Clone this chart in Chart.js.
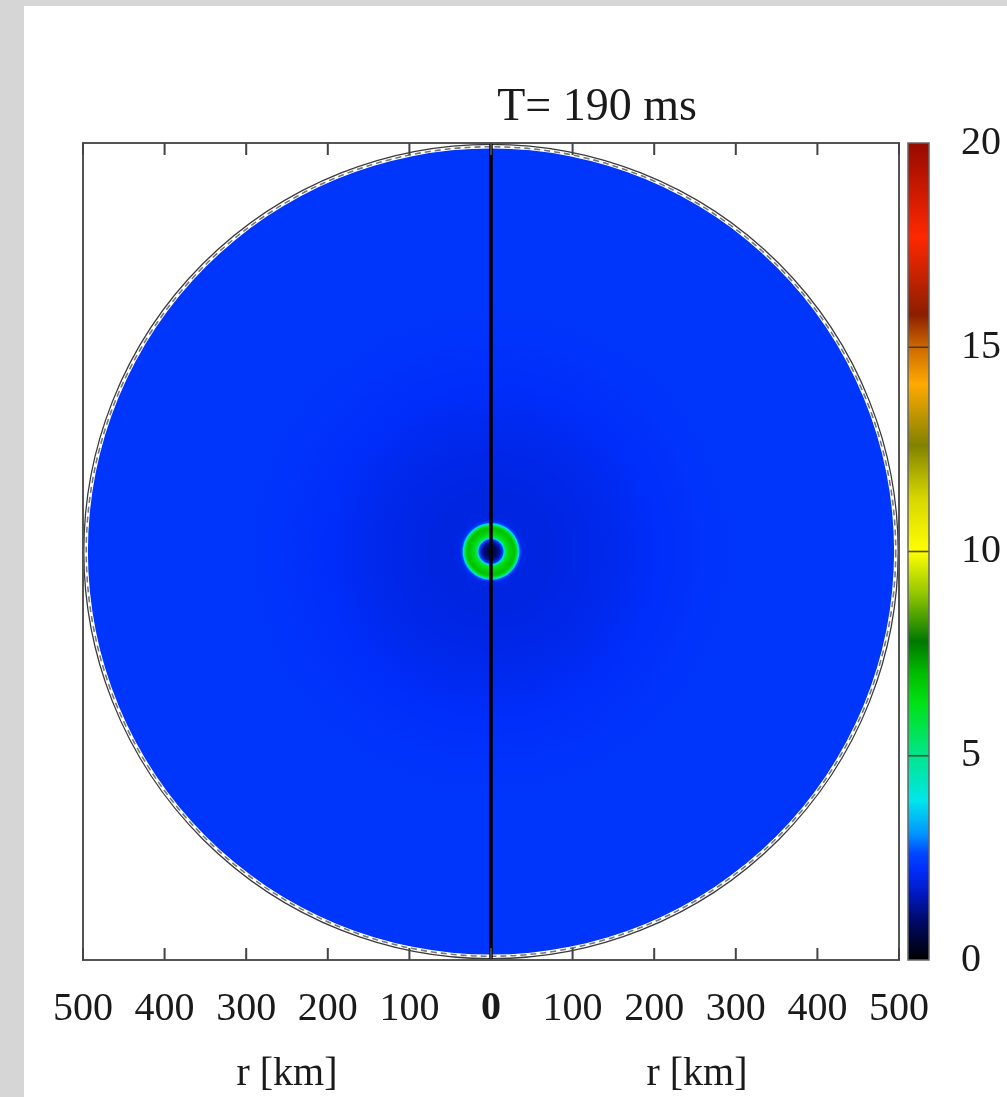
<!DOCTYPE html>
<html><head><meta charset="utf-8">
<script src="https://cdn.jsdelivr.net/npm/chart.js@4.4.0/dist/chart.umd.min.js"></script>
<style>html,body{margin:0;padding:0;background:#fff;}canvas{display:block;}</style>
</head><body>
<canvas id="c" width="1007" height="1097"></canvas>
<script>
// ---- data ----
const titleText = 'T= 190 ms';
const axisLabel = 'r [km]';
const xRange = [-500, 500];          // km, mirrored halves
const xTickStep = 100;
// radial profile of the plotted quantity (axisymmetric field)
const radiusKm   = [0, 5, 9, 12, 14.5, 16, 17.5, 19, 23, 27, 29, 31, 32.5, 34, 35.5, 38, 45, 70, 100, 150, 200, 260, 320, 400, 494];
const fieldValue = [0.5, 0.7, 1.1, 1.7, 2.5, 3.8, 5.4, 6.1, 6.6, 6.9, 6.9, 6.4, 5.2, 3.8, 2.6, 2.05, 1.95, 1.95, 2.0, 2.08, 2.2, 2.3, 2.35, 2.35, 2.35];
const discEdgeKm = 494;
const outlineKm = 499;
const dashedKm = 496;
const colorbarRange = [0, 20];
const colorbarStep = 5;
// colour scale
const cmapValues = [0, 1.0, 1.6, 2.2, 2.6, 3.1, 3.9, 5.0, 6.3, 7.0, 7.8, 9.0, 10.0, 11.3, 12.6, 14.1, 15.0, 15.8, 17.7, 20];
const cmapColors = [[0,0,0],[0,10,110],[0,25,190],[0,45,250],[0,70,255],[0,150,255],[0,230,235],[0,230,140],[0,225,20],[0,190,0],[0,120,0],[150,200,0],[255,255,0],[215,215,0],[130,130,0],[255,170,0],[205,105,0],[140,30,0],[255,40,0],[150,10,0]];

function colorFor(v){
  if (v <= cmapValues[0]) return 'rgb(' + cmapColors[0].join(',') + ')';
  for (let i = 1; i < cmapValues.length; i++){
    if (v <= cmapValues[i]){
      const t = (v - cmapValues[i-1]) / (cmapValues[i] - cmapValues[i-1]);
      const a = cmapColors[i-1], b = cmapColors[i];
      return 'rgb(' + a.map((c,k)=>Math.round(c + (b[k]-c)*t)).join(',') + ')';
    }
  }
  return 'rgb(' + cmapColors[cmapColors.length-1].join(',') + ')';
}

const FONT = '"Liberation Serif", "Times New Roman", serif';
const TEXT = '#1a1a1a';

const background = {
  id: 'background',
  beforeDraw(chart){
    const {ctx, width, height} = chart;
    ctx.save();
    ctx.fillStyle = '#d6d6d6';
    ctx.fillRect(0, 0, width, height);
    ctx.fillStyle = '#ffffff';
    ctx.fillRect(24, 6, width - 24, height - 6);
    ctx.restore();
  }
};

const heatmap = {
  id: 'heatmap',
  beforeDatasetsDraw(chart){
    const {ctx, scales:{x, y}} = chart;
    const cx = x.getPixelForValue(0), cy = y.getPixelForValue(0);
    const px = km => x.getPixelForValue(km) - cx;
    const rEdge = px(discEdgeKm);
    const g = ctx.createRadialGradient(cx, cy, 0, cx, cy, rEdge);
    radiusKm.forEach((r, i) => g.addColorStop(Math.min(1, r / discEdgeKm), colorFor(fieldValue[i])));
    ctx.save();
    ctx.beginPath();
    ctx.arc(cx, cy, rEdge, 0, Math.PI * 2);
    ctx.fillStyle = g;
    ctx.fill();
    // boundary lines
    ctx.setLineDash([6, 4]);
    ctx.strokeStyle = '#777';
    ctx.lineWidth = 1.6;
    ctx.beginPath(); ctx.arc(cx, cy, px(dashedKm), 0, Math.PI * 2); ctx.stroke();
    ctx.setLineDash([]);
    ctx.strokeStyle = '#3a3a3a';
    ctx.lineWidth = 1.3;
    ctx.beginPath(); ctx.arc(cx, cy, px(outlineKm), 0, Math.PI * 2); ctx.stroke();
    // symmetry axis r = 0
    ctx.strokeStyle = '#000';
    ctx.lineWidth = 3.5;
    ctx.beginPath();
    ctx.moveTo(cx, y.getPixelForValue(xRange[1]));
    ctx.lineTo(cx, y.getPixelForValue(xRange[0]));
    ctx.stroke();
    ctx.restore();
  },
  afterDraw(chart){
    const {ctx, chartArea:a, scales:{x, cb}} = chart;
    ctx.save();
    // frame
    ctx.strokeStyle = '#555';
    ctx.lineWidth = 2;
    ctx.strokeRect(a.left, a.top, a.right - a.left, a.bottom - a.top);
    // inward ticks top & bottom
    ctx.strokeStyle = '#444';
    ctx.lineWidth = 2;
    x.ticks.forEach((t, i) => {
      const p = x.getPixelForTick(i);
      ctx.beginPath();
      ctx.moveTo(p, a.bottom); ctx.lineTo(p, a.bottom - 12);
      ctx.moveTo(p, a.top); ctx.lineTo(p, a.top + 12);
      ctx.stroke();
    });
    // colour bar
    const bx0 = a.right + 9, bx1 = a.right + 30;
    const yTop = cb.getPixelForValue(colorbarRange[1]), yBot = cb.getPixelForValue(colorbarRange[0]);
    const lg = ctx.createLinearGradient(0, yBot, 0, yTop);
    cmapValues.forEach((v, i) => lg.addColorStop((v - colorbarRange[0]) / (colorbarRange[1] - colorbarRange[0]), colorFor(v)));
    ctx.fillStyle = lg;
    ctx.fillRect(bx0, yTop, bx1 - bx0, yBot - yTop);
    ctx.strokeStyle = 'rgba(50,50,50,0.85)';
    ctx.lineWidth = 1.6;
    cb.ticks.forEach(t => {
      if (t.value > colorbarRange[0] && t.value < colorbarRange[1]){
        const p = cb.getPixelForValue(t.value);
        ctx.beginPath(); ctx.moveTo(bx0, p); ctx.lineTo(bx1, p); ctx.stroke();
      }
    });
    ctx.strokeStyle = '#666';
    ctx.lineWidth = 1.5;
    ctx.strokeRect(bx0, yTop, bx1 - bx0, yBot - yTop);
    // title and axis labels
    ctx.fillStyle = TEXT;
    ctx.textAlign = 'center';
    ctx.textBaseline = 'alphabetic';
    ctx.font = '46px ' + FONT;
    ctx.fillText(titleText, 597, 120);
    ctx.font = '40px ' + FONT;
    const cx = x.getPixelForValue(0);
    ctx.fillText(axisLabel, (a.left + cx) / 2, 1085);
    ctx.fillText(axisLabel, (a.right + cx) / 2 + 2, 1085);
    ctx.restore();
  }
};

new Chart(document.getElementById('c'), {
  type: 'scatter',
  data: { datasets: [] },
  options: {
    responsive: false,
    devicePixelRatio: 1,
    animation: false,
    layout: { padding: { left: 83, top: 143, right: 0, bottom: 0 } },
    plugins: { legend: { display: false }, tooltip: { enabled: false }, title: { display: false } },
    scales: {
      x: {
        type: 'linear', position: 'bottom', min: xRange[0], max: xRange[1],
        grid: { display: false, drawTicks: false },
        border: { display: false },
        ticks: {
          stepSize: xTickStep, padding: 25, color: TEXT, maxRotation: 0, autoSkip: false,
          callback: v => String(Math.abs(v)),
          font: c => ({ family: FONT, size: 40, weight: (c.tick && c.tick.value === 0) ? 'bold' : 'normal' })
        },
        afterFit: s => { s.height = 137; }
      },
      y: { type: 'linear', display: false, min: xRange[0], max: xRange[1] },
      cb: {
        type: 'linear', position: 'right', min: colorbarRange[0], max: colorbarRange[1],
        grid: { display: false, drawTicks: false },
        border: { display: false },
        ticks: { stepSize: colorbarStep, padding: 62, color: TEXT, font: { family: FONT, size: 40 } },
        afterFit: s => { s.width = 108; }
      }
    }
  },
  plugins: [background, heatmap]
});
</script>
</body></html>
